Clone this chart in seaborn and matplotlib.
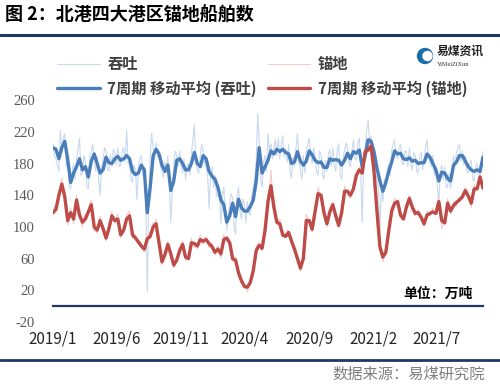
import pandas as pd
import matplotlib
matplotlib.use("Agg")
import matplotlib.pyplot as plt
import seaborn as sns
from matplotlib.lines import Line2D
from matplotlib.patches import Circle

# ---- data ----
title = "图 2：北港四大港区锚地船舶数"
legend_labels = ["吞吐", "锚地", "7周期 移动平均 (吞吐)", "7周期 移动平均 (锚地)"]
tick_dates = ["2019-01-01", "2019-06-01", "2019-11-01", "2020-04-01",
              "2020-09-01", "2021-02-01", "2021-07-01"]
tick_labels = ["2019/1", "2019/6", "2019/11", "2020/4", "2020/9", "2021/2", "2021/7"]
y_ticks = [-20, 20, 60, 100, 140, 180, 220, 260]

# weekly readings of the 7-period moving averages
ma_throughput = [
    200, 198, 186, 200, 208, 185, 156, 168, 176, 186,
    172, 176, 163, 183, 192, 180, 168, 172, 188, 181,
    180, 186, 189, 184, 186, 190, 186, 170, 166, 168,
    178, 172, 118, 150, 190, 198, 192, 178, 170, 178,
    146, 158, 184, 186, 180, 172, 172, 180, 194, 180,
    176, 190, 186, 170, 164, 160, 150, 134, 128, 106,
    114, 130, 113, 135, 124, 120, 120, 126, 134, 158,
    200, 168, 176, 184, 196, 192, 198, 195, 198, 194,
    192, 180, 182, 195, 183, 178, 183, 196, 191, 184,
    181, 182, 175, 175, 186, 184, 185, 184, 178, 184,
    193, 186, 195, 193, 197, 176, 190, 210, 208, 195,
    174, 158, 145, 156, 170, 182, 196, 192, 193, 186,
    185, 187, 183, 184, 180, 181, 181, 192, 188, 180,
    172, 158, 169, 168, 161, 158, 178, 182, 190, 190,
    183, 176, 172, 170, 172, 170, 188]
ma_anchorage = [
    118, 122, 140, 154, 138, 108, 118, 110, 134, 115,
    106, 110, 119, 128, 100, 96, 108, 98, 86, 98,
    114, 108, 110, 90, 96, 110, 114, 90, 86, 81,
    76, 72, 85, 88, 100, 104, 80, 56, 65, 78,
    66, 52, 58, 70, 78, 62, 60, 80, 79, 76,
    84, 82, 84, 79, 75, 68, 72, 66, 84, 86,
    80, 60, 58, 42, 32, 25, 24, 30, 45, 70,
    77, 73, 96, 132, 152, 125, 106, 104, 90, 88,
    93, 82, 72, 60, 48, 60, 108, 108, 97, 120,
    142, 140, 118, 104, 119, 128, 114, 102, 118, 145,
    145, 140, 148, 165, 172, 168, 195, 197, 202, 170,
    120, 75, 62, 68, 95, 120, 130, 132, 115, 110,
    125, 136, 125, 117, 118, 112, 104, 115, 117, 119,
    117, 132, 108, 105, 130, 120, 127, 131, 134, 138,
    146, 139, 130, 148, 148, 163, 149]

# raw readings, two per week
raw_throughput = [
    205, 190, 186, 178, 170, 222, 196, 212, 218, 176, 190, 150, 148, 170, 180, 160, 186, 200, 212, 165,
    168, 190, 182, 150, 148, 190, 194, 205, 186, 170, 188, 160, 140, 176, 186, 200, 196, 172, 170, 192,
    176, 198, 194, 178, 200, 176, 178, 196, 200, 182, 222, 180, 178, 160, 156, 178, 172, 134, 176, 186,
    190, 165, 168, 140, 18, 130, 190, 218, 200, 185, 206, 188, 196, 176, 170, 162, 182, 175, 190, 155,
    106, 150, 178, 196, 190, 176, 196, 178, 168, 186, 160, 176, 180, 166, 192, 210, 229, 180, 172, 168,
    190, 204, 196, 178, 176, 164, 123, 168, 176, 150, 165, 140, 138, 145, 104, 140, 150, 118, 96, 112,
    128, 142, 136, 100, 91, 140, 150, 120, 110, 135, 128, 105, 132, 118, 115, 140, 150, 160, 185, 243,
    210, 160, 150, 182, 190, 170, 218, 196, 205, 186, 200, 210, 190, 212, 186, 204, 215, 188, 198, 182,
    204, 170, 162, 188, 176, 200, 218, 184, 170, 160, 190, 168, 196, 204, 212, 188, 180, 200, 190, 170,
    165, 196, 192, 166, 160, 184, 170, 192, 198, 176, 200, 178, 170, 196, 205, 166, 160, 188, 196, 206,
    200, 180, 176, 196, 210, 186, 184, 206, 212, 170, 106, 186, 200, 222, 235, 205, 214, 196, 186, 170,
    160, 150, 94, 150, 132, 160, 150, 172, 180, 165, 196, 205, 210, 188, 186, 200, 204, 180, 178, 196,
    195, 176, 200, 180, 172, 194, 190, 170, 168, 188, 194, 172, 186, 200, 210, 186, 180, 176, 190, 165,
    176, 150, 130, 172, 178, 160, 176, 150, 150, 168, 148, 170, 190, 176, 194, 200, 204, 182, 196, 178,
    190, 170, 168, 180, 184, 160, 158, 176, 180, 162, 165, 186, 196]
raw_anchorage = [
    115, 126, 120, 132, 146, 150, 162, 146, 130, 118, 102, 114, 124, 112, 104, 126, 140, 122, 110, 108,
    100, 112, 116, 114, 122, 130, 134, 110, 94, 98, 92, 104, 114, 100, 94, 90, 82, 92, 104, 110,
    120, 108, 104, 112, 116, 96, 86, 94, 100, 106, 114, 118, 120, 98, 86, 88, 90, 82, 78, 80,
    72, 74, 68, 80, 90, 84, 92, 96, 106, 100, 110, 94, 74, 64, 52, 60, 70, 74, 82, 70,
    62, 56, 48, 54, 62, 66, 74, 76, 82, 68, 58, 60, 64, 72, 86, 78, 74, 78, 72, 82,
    90, 80, 78, 86, 88, 80, 74, 78, 80, 70, 64, 72, 76, 68, 60, 76, 90, 86, 82, 84,
    74, 68, 56, 60, 62, 48, 38, 36, 28, 28, 22, 24, 18, 26, 34, 38, 50, 60, 76, 74,
    80, 72, 70, 82, 104, 118, 140, 146, 172, 140, 118, 110, 102, 108, 110, 96, 86, 90, 92, 96,
    90, 86, 78, 76, 68, 64, 56, 52, 44, 50, 70, 90, 116, 110, 104, 100, 94, 108, 126, 134,
    150, 144, 136, 128, 112, 108, 100, 110, 124, 126, 132, 120, 110, 106, 98, 110, 124, 134, 152, 146,
    140, 138, 136, 144, 154, 158, 170, 168, 176, 166, 172, 184, 200, 194, 206, 196, 215, 186, 150, 136,
    104, 88, 70, 64, 56, 62, 74, 82, 104, 112, 126, 128, 136, 128, 128, 120, 112, 110, 114, 120,
    130, 134, 140, 130, 120, 118, 114, 120, 122, 114, 108, 104, 100, 110, 120, 116, 114, 120, 124, 116,
    120, 128, 138, 116, 98, 104, 110, 120, 136, 124, 116, 124, 132, 128, 126, 134, 138, 136, 142, 144,
    150, 140, 136, 132, 124, 138, 154, 146, 152, 158, 168, 156, 146]

ma_dates = pd.date_range("2019-01-01", periods=len(ma_throughput), freq="7D")
raw_dates = pd.date_range("2019-01-01", periods=len(raw_throughput), freq="84h")

ma_df = pd.DataFrame({"date": ma_dates, "tt": ma_throughput, "md": ma_anchorage})
raw_df = pd.DataFrame({"date": raw_dates, "tt": raw_throughput, "md": raw_anchorage})

# ---- style ----
sns.set_theme(style="white")
plt.rcParams["font.family"] = ["Noto Sans CJK SC", "DejaVu Sans"]

navy = "#1F3864"
blue = "#4A7EBB"
red = "#BE4B48"
blue_light = "#C9D9EE"
red_light = "#F1CDCC"

fig = plt.figure(figsize=(5, 3.88), dpi=100)
ax = fig.add_axes([0.106, 0.170, 0.860, 0.572])

sns.lineplot(data=raw_df, x="date", y="tt", color=blue_light, linewidth=0.8, ax=ax, legend=False)
sns.lineplot(data=raw_df, x="date", y="md", color=red_light, linewidth=0.8, ax=ax, legend=False)
sns.lineplot(data=ma_df, x="date", y="tt", color=blue, linewidth=2.4, ax=ax, legend=False)
sns.lineplot(data=ma_df, x="date", y="md", color=red, linewidth=2.4, ax=ax, legend=False)

ax.set_xlim(ma_dates[0], ma_dates[-1])
ax.set_ylim(-20, 260)
ax.set_yticks(y_ticks)
ax.set_yticklabels([str(v) for v in y_ticks], family="Liberation Serif", fontsize=10.5, color="#595959")
ax.set_xticks(pd.to_datetime(tick_dates))
ax.set_xticklabels(tick_labels, family="Liberation Serif", fontsize=10.5, color="#595959")
ax.set_xlabel("")
ax.set_ylabel("")

for s in ["top", "right", "left"]:
    ax.spines[s].set_visible(False)
ax.spines["bottom"].set_position(("data", 0))
ax.spines["bottom"].set_color(navy)
ax.spines["bottom"].set_linewidth(1.6)
ax.tick_params(axis="y", length=0, pad=13)
ax.tick_params(axis="x", direction="inout", length=5, width=1.3, color=navy, pad=15)

# legend
lines = ax.get_lines()
handles = [lines[0], lines[2], lines[1], lines[3]]
labs = [legend_labels[0], legend_labels[2], legend_labels[1], legend_labels[3]]
leg = fig.legend(handles, labs, loc="upper left", bbox_to_anchor=(0.114, 0.856), ncol=2,
                 frameon=False, borderpad=0, borderaxespad=0, handlelength=2.8,
                 handletextpad=0.5, columnspacing=0.7, labelspacing=0.55,
                 prop={"family": "Noto Sans CJK SC", "weight": "bold", "size": 11})
for t in leg.get_texts():
    t.set_color("#404040")

# title, rules, notes
fig.text(0.010, 0.961, title, fontsize=13, weight="bold", color="black", va="center")
fig.add_artist(Line2D([0, 1], [0.910, 0.910], transform=fig.transFigure, color=navy, lw=2.2))
fig.add_artist(Line2D([0, 1], [0.072, 0.072], transform=fig.transFigure, color=navy, lw=2.0))
fig.text(0.970, 0.036, "数据来源：易煤研究院", fontsize=11, color="#7F7F7F", ha="right", va="center")
fig.text(0.946, 0.242, "单位：万吨", fontsize=10, weight="bold", color="black", ha="right", va="center")

# logo
fig.add_artist(Circle((4.25, 3.32), 0.075, transform=fig.dpi_scale_trans, color="#1B6FA8"))
fig.add_artist(Circle((4.275, 3.32), 0.045, transform=fig.dpi_scale_trans, color="white"))
fig.text(0.873, 0.868, "易煤资讯", fontsize=8.5, weight="bold", color="#222222", va="center")
fig.text(0.873, 0.833, "YiMeiZiXun", fontsize=4.5, family="Liberation Serif", color="#333333", va="center")

fig.savefig("out.png", dpi=100)
